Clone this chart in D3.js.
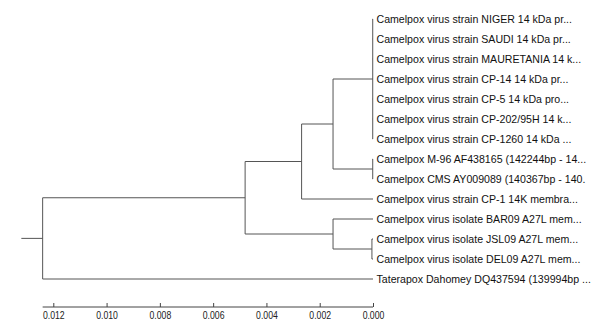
<!DOCTYPE html>
<html>
<head>
<meta charset="utf-8">
<script src="https://cdn.jsdelivr.net/npm/d3@7"></script>
<style>
  body { margin: 0; background: #fff; }
  .leaf-label { font-family: "Liberation Sans", Arial, sans-serif; font-size: 10.6px; fill: #111; }
  .axis text { font-family: "Liberation Sans", Arial, sans-serif; font-size: 10.6px; fill: #222; }
  .axis path, .axis line { stroke: #444; }
</style>
</head>
<body>
<div id="chart"></div>
<script>
// Leaf labels, top to bottom
const taxa = [
  "Camelpox virus strain NIGER 14 kDa pr...",
  "Camelpox virus strain SAUDI 14 kDa pr...",
  "Camelpox virus strain MAURETANIA 14 k...",
  "Camelpox virus strain CP-14 14 kDa pr...",
  "Camelpox virus strain CP-5 14 kDa pro...",
  "Camelpox virus strain CP-202/95H 14 k...",
  "Camelpox virus strain CP-1260 14 kDa ...",
  "Camelpox M-96 AF438165 (142244bp - 14...",
  "Camelpox CMS AY009089 (140367bp - 140.",
  "Camelpox virus strain CP-1 14K membra...",
  "Camelpox virus isolate BAR09 A27L mem...",
  "Camelpox virus isolate JSL09 A27L mem...",
  "Camelpox virus isolate DEL09 A27L mem...",
  "Taterapox Dahomey DQ437594 (139994bp ..."
];

// Internal nodes: children (leaf index or node id) and node height
const nodeIds = ["P", "M", "C", "B", "J", "I", "A", "R"];
const nodeKids = [
  [0, 1, 2, 3, 4, 5, 6],
  [7, 8],
  ["P", "M"],
  ["C", 9],
  [11, 12],
  [10, "J"],
  ["B", "I"],
  ["A", 13]
];
const nodeHeights = [0.00001, 0.00001, 0.0015, 0.00268, 0.00004, 0.0015, 0.0048, 0.0124];
const rootStub = 0.0008;

const tickValues = [0.012, 0.010, 0.008, 0.006, 0.004, 0.002, 0.000];

const width = 591, height = 321;

const svg = d3.select("#chart").append("svg")
  .attr("width", width)
  .attr("height", height);

const x = d3.scaleLinear().domain([0, 0.012]).range([373, 53.3]);
const y = d3.scalePoint().domain(d3.range(taxa.length)).range([19, 279]);

// build the tree
function build(ref) {
  if (typeof ref === "number") return { leaf: ref, h: 0 };
  const i = nodeIds.indexOf(ref);
  return { id: ref, h: nodeHeights[i], kids: nodeKids[i].map(build) };
}
const root = d3.hierarchy(build("R"), d => d.kids);

root.eachAfter(n => {
  if (n.data.leaf !== undefined) {
    n.py = y(n.data.leaf);
  } else {
    const ys = n.children.map(c => c.py);
    n.py = (d3.min(ys) + d3.max(ys)) / 2;
  }
  n.px = x(n.data.h);
});

const g = svg.append("g")
  .attr("fill", "none")
  .attr("stroke", "#555")
  .attr("stroke-width", 1);

// vertical connectors
g.selectAll("line.v")
  .data(root.descendants().filter(n => n.children))
  .join("line")
  .attr("class", "v")
  .attr("x1", d => d.px).attr("x2", d => d.px)
  .attr("y1", d => d3.min(d.children, c => c.py))
  .attr("y2", d => d3.max(d.children, c => c.py));

// horizontal branches
g.selectAll("line.h")
  .data(root.descendants().filter(n => n.parent))
  .join("line")
  .attr("class", "h")
  .attr("x1", d => d.parent.px).attr("x2", d => d.px)
  .attr("y1", d => d.py).attr("y2", d => d.py);

// root stub
g.append("line")
  .attr("x1", x(root.data.h + rootStub)).attr("x2", root.px)
  .attr("y1", root.py).attr("y2", root.py);

// leaf labels
svg.selectAll("text.leaf-label")
  .data(root.leaves())
  .join("text")
  .attr("class", "leaf-label")
  .attr("x", d => d.px + 3.5)
  .attr("y", d => d.py)
  .attr("dy", "0.36em")
  .text(d => taxa[d.data.leaf]);

// scale axis
const axis = svg.append("g")
  .attr("class", "axis")
  .attr("transform", "translate(0,307)")
  .call(d3.axisBottom(x)
    .tickValues(tickValues)
    .tickFormat(d3.format(".3f"))
    .tickSize(-4)
    .tickSizeOuter(0)
    .tickPadding(4));

axis.select(".domain")
  .attr("d", `M${x(root.data.h)},0H${x(0)}`);

// the scale labels are narrow in the original
axis.selectAll(".tick text")
  .attr("transform", "scale(0.82,1)");
</script>
</body>
</html>
